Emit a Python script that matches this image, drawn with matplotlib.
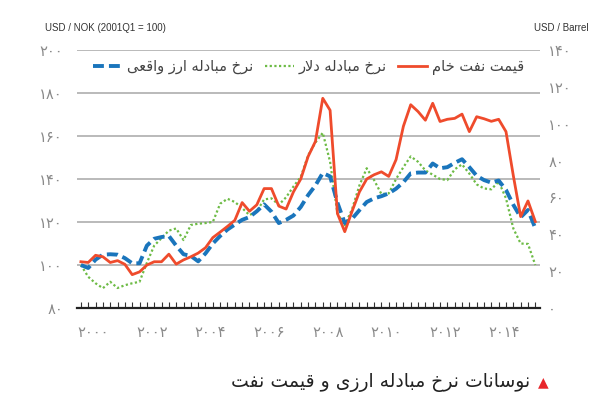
import matplotlib
matplotlib.use("Agg")
import matplotlib.pyplot as plt
import numpy as np

plt.rcParams['font.family'] = ['DejaVu Sans']

# quarterly data, 2000Q1 .. 2015Q3
oil_usd = [25.1, 24.7, 28.6, 27.8, 24.7, 25.7, 23.7, 18.1, 19.6, 23.3,
           25.1, 25.1, 29.2, 23.8, 26.1, 27.8, 29.8, 32.7, 38.2, 41.2,
           44.3, 47.6, 57.2, 52.5, 56.0, 64.8, 64.8, 55.3, 53.7, 63.0,
           70.0, 82.2, 90.4, 113.8, 107.3, 51.3, 41.4, 52.5, 63.0, 70.0,
           72.3, 73.9, 71.4, 80.5, 98.6, 110.3, 106.6, 101.9, 111.1, 101.2,
           102.4, 102.9, 105.2, 95.7, 103.8, 102.7, 101.3, 102.4, 95.7, 71.8,
           49.6, 58.1, 46.9]
real_fx = [100, 98.6, 102.5, 104.8, 105, 104.8, 103.2, 100.8, 100.8, 109,
           112.2, 113, 113.5, 109, 105, 104.2, 101.7, 105.4, 110, 113.5,
           116.5, 118.8, 121, 122.3, 125, 128.2, 124.8, 119.5, 121, 123,
           127, 132.5, 137, 142.8, 141.2, 129, 119.5, 121.5, 125.5, 129.3,
           131, 132, 133.3, 135.5, 138.5, 142.6, 143, 143, 147.2, 145,
           145.5, 147.5, 149.2, 145.5, 141.5, 139.5, 138.3, 139.3, 134.9, 128,
           122.2, 125.6, 117.1]
usd_nok = [100, 94.5, 91.5, 89.2, 92.2, 89.3, 90.6, 91.5, 92.2, 101,
           109, 112.5, 116, 117, 111.6, 118.6, 119.2, 119.5, 120, 128.5,
           130.8, 129.3, 126.5, 123.2, 125, 130.5, 131, 128, 131.5, 136.5,
           141, 151, 157, 161.5, 148, 124, 118.5, 126, 137, 145,
           139.5, 133, 133.3, 140, 145.5, 150.5, 148, 144, 142, 140,
           139.5, 144.5, 146.8, 142.5, 137.5, 135.6, 135.2, 138.8, 131, 117,
           110, 109.8, 100]

left_ticks = [80, 100, 120, 140, 160, 180, 200]
right_ticks = [0, 20, 40, 60, 80, 100, 120, 140]
year_labels = [2000, 2002, 2004, 2006, 2008, 2010, 2012, 2014]

lbl_oil = "قیمت نفت خام"
lbl_nom = "نرخ مبادله دلار"
lbl_real = "نرخ مبادله ارز واقعی"
title = "نوسانات نرخ مبادله ارزی و قیمت نفت"

FA_DIGITS = str.maketrans("0123456789", "۰۱۲۳۴۵۶۷۸۹")


def fa(n):
    return str(n).translate(FA_DIGITS)


# minimal Persian shaping (matplotlib has no complex text layout)
FORMS = {
    'ا': ('\uFE8D', '\uFE8E'), 'د': ('\uFEA9', '\uFEAA'),
    'ر': ('\uFEAD', '\uFEAE'), 'ز': ('\uFEAF', '\uFEB0'),
    'و': ('\uFEED', '\uFEEE'),
    'ب': ('\uFE8F', '\uFE90', '\uFE91', '\uFE92'),
    'ت': ('\uFE95', '\uFE96', '\uFE97', '\uFE98'),
    'خ': ('\uFEA5', '\uFEA6', '\uFEA7', '\uFEA8'),
    'س': ('\uFEB1', '\uFEB2', '\uFEB3', '\uFEB4'),
    'ع': ('\uFEC9', '\uFECA', '\uFECB', '\uFECC'),
    'ف': ('\uFED1', '\uFED2', '\uFED3', '\uFED4'),
    'ق': ('\uFED5', '\uFED6', '\uFED7', '\uFED8'),
    'ل': ('\uFEDD', '\uFEDE', '\uFEDF', '\uFEE0'),
    'م': ('\uFEE1', '\uFEE2', '\uFEE3', '\uFEE4'),
    'ن': ('\uFEE5', '\uFEE6', '\uFEE7', '\uFEE8'),
    'ه': ('\uFEE9', '\uFEEA', '\uFEEB', '\uFEEC'),
    'ی': ('\uFBFC', '\uFBFD', '\uFBFE', '\uFBFF'),
}


def joins_next(c):
    return c in FORMS and len(FORMS[c]) == 4


def shape(text):
    out = []
    i = 0
    while i < len(text):
        c = text[i]
        if c not in FORMS:
            out.append(c)
            i += 1
            continue
        cp = i > 0 and joins_next(text[i - 1])
        if c == 'ل' and i + 1 < len(text) and text[i + 1] == 'ا':
            out.append('\uFEFC' if cp else '\uFEFB')
            i += 2
            continue
        nxt = text[i + 1] if i + 1 < len(text) else ''
        cn = joins_next(c) and nxt in FORMS
        f = FORMS[c]
        if cp and cn:
            out.append(f[3])
        elif cp:
            out.append(f[1])
        elif cn:
            out.append(f[2])
        else:
            out.append(f[0])
        i += 1
    return ''.join(reversed(out))


x = 2000 + np.arange(len(oil_usd)) / 4.0

fig = plt.figure(figsize=(6, 4), dpi=100)
ax = fig.add_axes([0.128, 0.23, 0.772, 0.645])
ax2 = ax.twinx()

gray = '#8a8a8a'
l_real, = ax.plot(x, real_fx, color='#1a75bc', lw=2.8, dashes=(2.8, 1.3),
                  label=shape(lbl_real), zorder=3)
l_nom, = ax.plot(x, usd_nok, color='#6dbb45', lw=1.6, linestyle=(0, (1, 1.1)),
                 label=shape(lbl_nom), zorder=2)
l_oil, = ax2.plot(x, oil_usd, color='#ef4b2c', lw=2.0, label=shape(lbl_oil))

ax.set_ylim(80, 200)
ax2.set_ylim(0, 140)
ax.set_xlim(1999.86, 2015.66)

for v in left_ticks[1:]:
    ax.axhline(v, color='#b4b4b4', lw=1.3, zorder=1)

ax.set_yticks(left_ticks)
ax.set_yticklabels([fa(v) for v in left_ticks])
ax2.set_yticks(right_ticks)
ax2.set_yticklabels([fa(v) for v in right_ticks])
ax.tick_params(axis='y', length=0, pad=10, labelsize=10.5, labelcolor=gray)
ax2.tick_params(axis='y', length=0, pad=6, labelsize=10.5, labelcolor=gray)

quarters = 2000 + np.arange(0, 63) / 4.0
ax.set_xticks(quarters, minor=True)
ax.set_xticks([y + 0.42 for y in year_labels])
ax.set_xticklabels([fa(y) for y in year_labels])
ax.tick_params(axis='x', which='minor', direction='in', length=4, width=0.8, color='#333333')
ax.tick_params(axis='x', which='major', length=0, pad=12, labelsize=10.5, labelcolor=gray)

for a in (ax, ax2):
    for s in ('top', 'left', 'right', 'bottom'):
        a.spines[s].set_visible(False)
ax.spines['bottom'].set_visible(True)
ax.spines['bottom'].set_linewidth(1.6)
ax.spines['bottom'].set_color('#222222')

leg = ax2.legend(handles=[l_real, l_nom, l_oil], loc='center', ncol=3,
                 bbox_to_anchor=(0.5, 0.935), frameon=False, fontsize=10.5,
                 handlelength=2.0, handletextpad=0.3, columnspacing=0.8)
for t in leg.get_texts():
    t.set_color('#444444')

fig.text(0.175, 0.93, "USD / NOK (2001Q1 = 100)", fontsize=7, color='#333333',
         ha='center', va='center', family=['Liberation Sans', 'DejaVu Sans'])
fig.text(0.935, 0.93, "USD / Barrel", fontsize=7, color='#333333',
         ha='center', va='center', family=['Liberation Sans', 'DejaVu Sans'])

fig.text(0.883, 0.045, shape(title), fontsize=13.5, color='#222222',
         ha='right', va='center')
fig.text(0.905, 0.045, "▲", fontsize=10, color='#e8262b', ha='center', va='center')

fig.savefig("out.png", dpi=100)
